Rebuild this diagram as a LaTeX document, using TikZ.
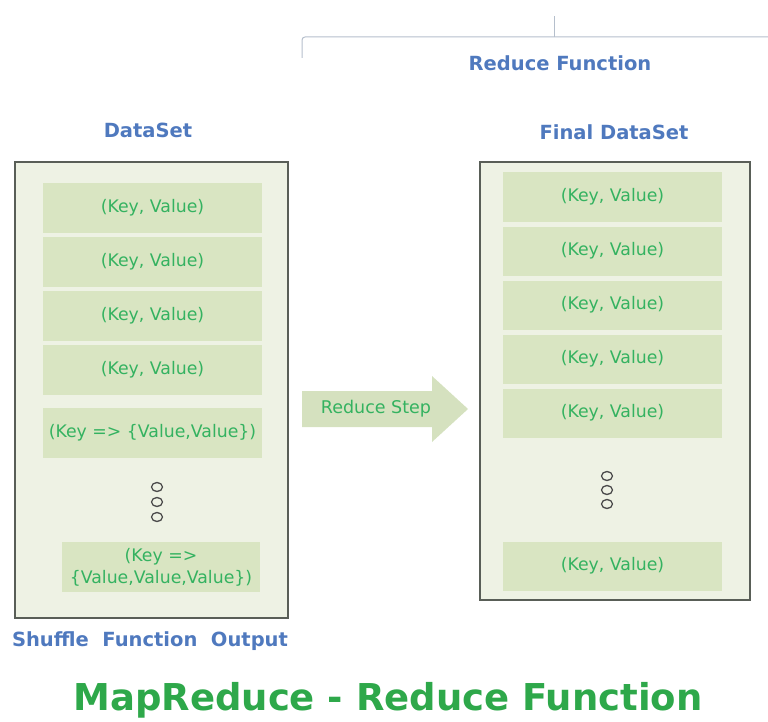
\documentclass[tikz,border=0pt]{standalone}
\usepackage{fontspec}
\setmainfont{DejaVu Sans}
\usetikzlibrary{positioning}

\definecolor{boxfill}{RGB}{238,242,228}
\definecolor{rowfill}{RGB}{217,229,194}
\definecolor{boxline}{RGB}{89,94,87}
\definecolor{keygreen}{RGB}{52,178,96}
\definecolor{titlegreen}{RGB}{46,168,74}
\definecolor{labelblue}{RGB}{79,121,190}
\definecolor{arrowfill}{RGB}{213,225,191}
\definecolor{bracecol}{RGB}{181,191,204}

\newcommand{\rowfont}[0]{\fontsize{17.3}{22}\selectfont}
\tikzstyle{dataset}=[
  rectangle,
  draw=boxline,
  line width=1.6pt,
  fill=boxfill,
  anchor=center,
]
\tikzstyle{pair}=[
  rectangle,
  fill=rowfill,
  text=keygreen,
  align=center,
  anchor=center,
  minimum width=219pt,
  minimum height=50pt,
  font=\rowfont,
]
\tikzstyle{caption}=[
  text=labelblue,
  anchor=center,
  font=\bfseries\fontsize{19.5}{23}\selectfont,
]
\tikzstyle{stepbox}=[
  text=keygreen,
  anchor=center,
  font=\fontsize{17.5}{20}\selectfont,
]
\tikzstyle{brace}=[draw=bracecol,line width=1pt,rounded corners=3pt]
\tikzstyle{dots}=[draw=black!70,line width=1.3pt]

\begin{document}
\begin{tikzpicture}[x=1pt,y=-1pt]
      \useasboundingbox (0,0) rectangle (768,722);

      % bracket over the reduce side
      \coordinate (braceleft) at (302,58);
      \coordinate (braceright) at (768,37);
      \coordinate (bracetip) at (554,16);
      \draw[brace] (braceleft) -- (302,37) -- (braceright);
      \draw[brace] (554,37) -- (bracetip);
      \node[caption] (redfun) at (560,63) {Reduce Function};

      % shuffle output
      \node[dataset,minimum width=273pt,minimum height=456pt] (shuffle) at (151.5,390) {};
      \node[caption] (dataset) at (148,130) {DataSet};
      \node[caption] (shuffleout) at (150,641) {Shuffle\ \ Function\ \ Output};
      \node[pair] (lrow1) at (152.5,208) {(Key, Value)};
      \node[pair] (lrow2) at ([yshift=-54pt] lrow1.center) {(Key, Value)};
      \node[pair] (lrow3) at ([yshift=-54pt] lrow2.center) {(Key, Value)};
      \node[pair] (lrow4) at ([yshift=-54pt] lrow3.center) {(Key, Value)};
      \node[pair] (lrow5) at ([yshift=-63pt] lrow4.center) {(Key => \{Value,Value\})};
      \node[pair,minimum width=198pt] (lrow6) at (161,567) {(Key =>\\\{Value,Value,Value\})};
      \foreach \y in {487,502,517}
        \draw[dots] (157,\y) ellipse (5.5pt and 4.5pt);

      % reduce step
      \fill[arrowfill] (302,391) -- (432,391) -- (432,376) -- (468,409)
        -- (432,442) -- (432,427) -- (302,427) -- cycle;
      \node[stepbox] (redstep) at (376,409) {Reduce Step};

      % final dataset
      \node[dataset,minimum width=270pt,minimum height=438pt] (final) at (615,381) {};
      \node[caption] (finalset) at (614,132) {Final DataSet};
      \node[pair,minimum height=49pt] (rrow1) at (612.5,197) {(Key, Value)};
      \node[pair,minimum height=49pt] (rrow2) at ([yshift=-54pt] rrow1.center) {(Key, Value)};
      \node[pair,minimum height=49pt] (rrow3) at ([yshift=-54pt] rrow2.center) {(Key, Value)};
      \node[pair,minimum height=49pt] (rrow4) at ([yshift=-54pt] rrow3.center) {(Key, Value)};
      \node[pair,minimum height=49pt] (rrow5) at ([yshift=-54pt] rrow4.center) {(Key, Value)};
      \node[pair,minimum height=49pt] (rrow6) at (612.5,566) {(Key, Value)};
      \foreach \y in {476,490,504}
        \draw[dots] (607,\y) ellipse (5.5pt and 4.5pt);

      \node[text=titlegreen,font=\bfseries\fontsize{37}{41}\selectfont] (title) at (388,700) {MapReduce - Reduce Function};
    \end{tikzpicture}
\end{document}
